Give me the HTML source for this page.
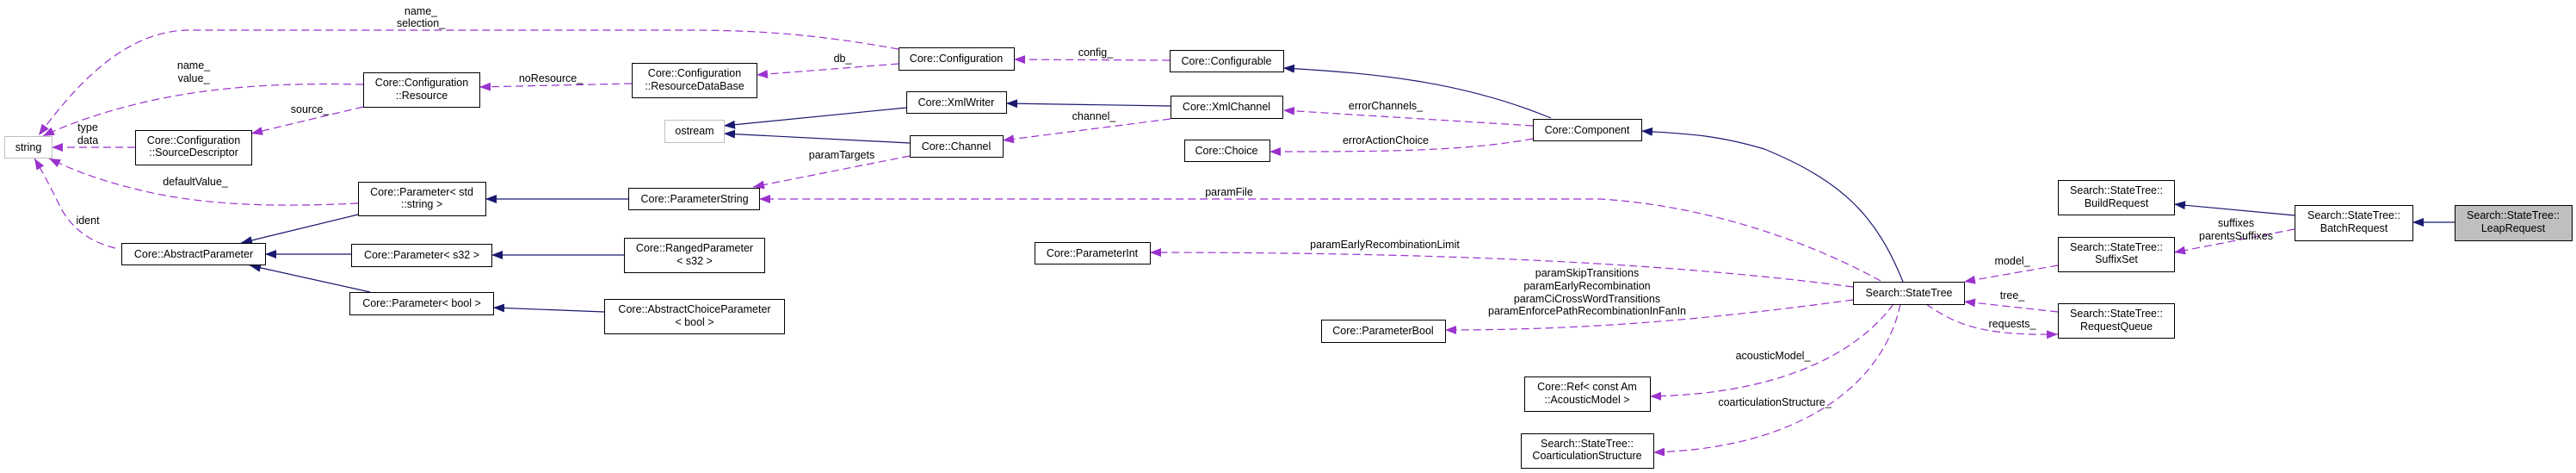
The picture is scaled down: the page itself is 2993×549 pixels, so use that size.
<!DOCTYPE html>
<html><head><meta charset="utf-8"><style>
html,body{margin:0;padding:0;background:#fff;}
svg{display:block;}
text{font-family:"Liberation Sans",sans-serif;font-size:12.5px;fill:#000;}
.b{fill:#fff;stroke:#000;stroke-width:1;}
.g{fill:#fff;stroke:#bfbfbf;stroke-width:1;}
.d{fill:none;stroke:#9a32cd;stroke-width:1.2;stroke-dasharray:9,5;marker-end:url(#pa);}
.s{fill:none;stroke:#191970;stroke-width:1.2;marker-end:url(#na);}
</style></head><body>
<svg width="2993" height="549" viewBox="0 0 2993 549" xmlns="http://www.w3.org/2000/svg">
<defs>
<marker id="pa" markerUnits="userSpaceOnUse" markerWidth="14" markerHeight="10" refX="13" refY="5" orient="auto"><path d="M0,0 L13,5 L0,10 z" fill="#9a32cd"/></marker>
<marker id="na" markerUnits="userSpaceOnUse" markerWidth="14" markerHeight="10" refX="13" refY="5" orient="auto"><path d="M0,0 L13,5 L0,10 z" fill="#191970"/></marker>
</defs>

<path class="d" d="M1044,57 C950,40 880,35 800,35 L220,35 C140,35 80,110 45,157"/>
<path class="d" d="M734,97 L557,101"/>
<path class="d" d="M1044,74 L879,87"/>
<path class="d" d="M422,98 C330,96 250,100 170,118 C110,132 70,148 50,158"/>
<path class="d" d="M422,124 L292,155"/>
<path class="d" d="M157,171 L60,171"/>
<path class="d" d="M416,236 C330,240 240,240 160,220 C110,208 80,195 57,184"/>
<path class="d" d="M134,288 C100,280 80,260 70,240 C60,220 50,200 40,184"/>
<path class="s" d="M416,249 L280,282"/>
<path class="s" d="M408,295 L308,295"/>
<path class="s" d="M430,339 L290,308"/>
<path class="s" d="M730,231 L564,231"/>
<path class="s" d="M725,296 L571,296"/>
<path class="s" d="M702,362 L573,357"/>
<path class="s" d="M1053,125 L841,146"/>
<path class="s" d="M1057,166 L841,155"/>
<path class="d" d="M1057,181 L875,217"/>
<path class="d" d="M1360,138 L1165,163"/>
<path class="s" d="M1360,123 L1169,120"/>
<path class="d" d="M1359,70 L1178,69"/>
<path class="s" d="M1802,137 C1700,95 1600,85 1491,79"/>
<path class="d" d="M1781,146 L1491,128"/>
<path class="d" d="M1781,161 C1700,176 1600,176 1475,176"/>
<path class="s" d="M2211,327 C2180,250 2140,210 2050,173 C1990,155 1950,155 1907,152"/>
<path class="d" d="M2185,326 C2120,290 2000,240 1860,231 L882,231"/>
<path class="d" d="M2153,333 C1900,300 1600,293 1336,293"/>
<path class="d" d="M2153,348 C1990,370 1850,383 1679,383"/>
<path class="d" d="M2200,353 C2150,420 2050,458 1917,460"/>
<path class="d" d="M2208,353 C2190,440 2100,520 1921,525"/>
<path class="d" d="M2391,308 L2282,327"/>
<path class="d" d="M2391,362 L2282,350"/>
<path class="d" d="M2238,353 C2270,375 2300,390 2391,388"/>
<path class="s" d="M2666,250 L2526,237"/>
<path class="d" d="M2666,266 L2526,293"/>
<path class="s" d="M2852,258 L2803,258"/>

<g text-anchor="middle">
<text x="489" y="17">name_</text><text x="489" y="31">selection_</text>
<text x="640" y="95">noResource_</text>
<text x="979" y="72">db_</text>
<text x="225" y="80">name_</text><text x="225" y="95">value_</text>
<text x="360" y="131">source_</text>
<text x="102" y="152">type</text><text x="102" y="167">data</text>
<text x="227" y="215">defaultValue_</text>
<text x="102" y="260">ident</text>
<text x="978" y="184">paramTargets</text>
<text x="1271" y="139">channel_</text>
<text x="1273" y="65">config_</text>
<text x="1610" y="127">errorChannels_</text>
<text x="1610" y="167">errorActionChoice</text>
<text x="1428" y="227">paramFile</text>
<text x="1609" y="288">paramEarlyRecombinationLimit</text>
<text x="1844" y="321">paramSkipTransitions</text>
<text x="1844" y="336">paramEarlyRecombination</text>
<text x="1844" y="351">paramCiCrossWordTransitions</text>
<text x="1844" y="365">paramEnforcePathRecombinationInFanIn</text>
<text x="2060" y="417">acousticModel_</text>
<text x="2062" y="471">coarticulationStructure_</text>
<text x="2338" y="307">model_</text>
<text x="2338" y="347">tree_</text>
<text x="2338" y="380">requests_</text>
<text x="2598" y="263">suffixes</text><text x="2598" y="278">parentsSuffixes</text>
</g>

<g text-anchor="middle">
<rect class="g" x="5.5" y="158.5" width="55" height="25"/><text x="33" y="175">string</text>
<rect class="b" x="422.5" y="84.5" width="135" height="40"/><text x="490" y="100">Core::Configuration</text><text x="490" y="115">::Resource</text>
<rect class="b" x="157.5" y="151.5" width="135" height="40"/><text x="225" y="167">Core::Configuration</text><text x="225" y="181">::SourceDescriptor</text>
<rect class="b" x="416.5" y="211.5" width="148" height="39"/><text x="490" y="227">Core::Parameter&lt; std</text><text x="490" y="241">::string &gt;</text>
<rect class="b" x="141.5" y="282.5" width="167" height="25"/><text x="225" y="299">Core::AbstractParameter</text>
<rect class="b" x="408.5" y="283.5" width="163" height="26"/><text x="490" y="300">Core::Parameter&lt; s32 &gt;</text>
<rect class="b" x="406.5" y="339.5" width="167" height="26"/><text x="490" y="356">Core::Parameter&lt; bool &gt;</text>
<rect class="b" x="1044.5" y="55.5" width="134" height="26"/><text x="1111" y="72">Core::Configuration</text>
<rect class="b" x="734.5" y="73.5" width="145" height="40"/><text x="807" y="89">Core::Configuration</text><text x="807" y="104">::ResourceDataBase</text>
<rect class="b" x="1053.5" y="106.5" width="116" height="25"/><text x="1111" y="123">Core::XmlWriter</text>
<rect class="g" x="772.5" y="139.5" width="69" height="26"/><text x="807" y="156">ostream</text>
<rect class="b" x="1057.5" y="157.5" width="108" height="25"/><text x="1111" y="174">Core::Channel</text>
<rect class="b" x="730.5" y="218.5" width="152" height="25"/><text x="807" y="235">Core::ParameterString</text>
<rect class="b" x="725.5" y="276.5" width="163" height="40"/><text x="807" y="292">Core::RangedParameter</text><text x="807" y="307">&lt; s32 &gt;</text>
<rect class="b" x="1202.5" y="281.5" width="134" height="25"/><text x="1269" y="298">Core::ParameterInt</text>
<rect class="b" x="702.5" y="347.5" width="209" height="40"/><text x="807" y="363">Core::AbstractChoiceParameter</text><text x="807" y="378">&lt; bool &gt;</text>
<rect class="b" x="1359.5" y="58.5" width="132" height="25"/><text x="1425" y="75">Core::Configurable</text>
<rect class="b" x="1360.5" y="111.5" width="130" height="26"/><text x="1425" y="128">Core::XmlChannel</text>
<rect class="b" x="1376.5" y="162.5" width="99" height="25"/><text x="1425" y="179">Core::Choice</text>
<rect class="b" x="1781.5" y="138.5" width="126" height="25"/><text x="1844" y="155">Core::Component</text>
<rect class="b" x="1535.5" y="371.5" width="144" height="26"/><text x="1607" y="388">Core::ParameterBool</text>
<rect class="b" x="1771.5" y="437.5" width="146" height="40"/><text x="1844" y="453">Core::Ref&lt; const Am</text><text x="1844" y="468">::AcousticModel &gt;</text>
<rect class="b" x="1767.5" y="503.5" width="154" height="40"/><text x="1844" y="519">Search::StateTree::</text><text x="1844" y="533">CoarticulationStructure</text>
<rect class="b" x="2153.5" y="327.5" width="129" height="26"/><text x="2218" y="344">Search::StateTree</text>
<rect class="b" x="2391.5" y="209.5" width="135" height="40"/><text x="2459" y="225">Search::StateTree::</text><text x="2459" y="240">BuildRequest</text>
<rect class="b" x="2391.5" y="275.5" width="135" height="40"/><text x="2459" y="291">Search::StateTree::</text><text x="2459" y="305">SuffixSet</text>
<rect class="b" x="2391.5" y="352.5" width="135" height="40"/><text x="2459" y="368">Search::StateTree::</text><text x="2459" y="383">RequestQueue</text>
<rect class="b" x="2666.5" y="238.5" width="137" height="41"/><text x="2735" y="254">Search::StateTree::</text><text x="2735" y="269">BatchRequest</text>
<rect x="2852.5" y="238.5" width="136" height="41" fill="#bfbfbf" stroke="#000"/><text x="2920" y="254">Search::StateTree::</text><text x="2920" y="269">LeapRequest</text>
</g>
</svg>
</body></html>
